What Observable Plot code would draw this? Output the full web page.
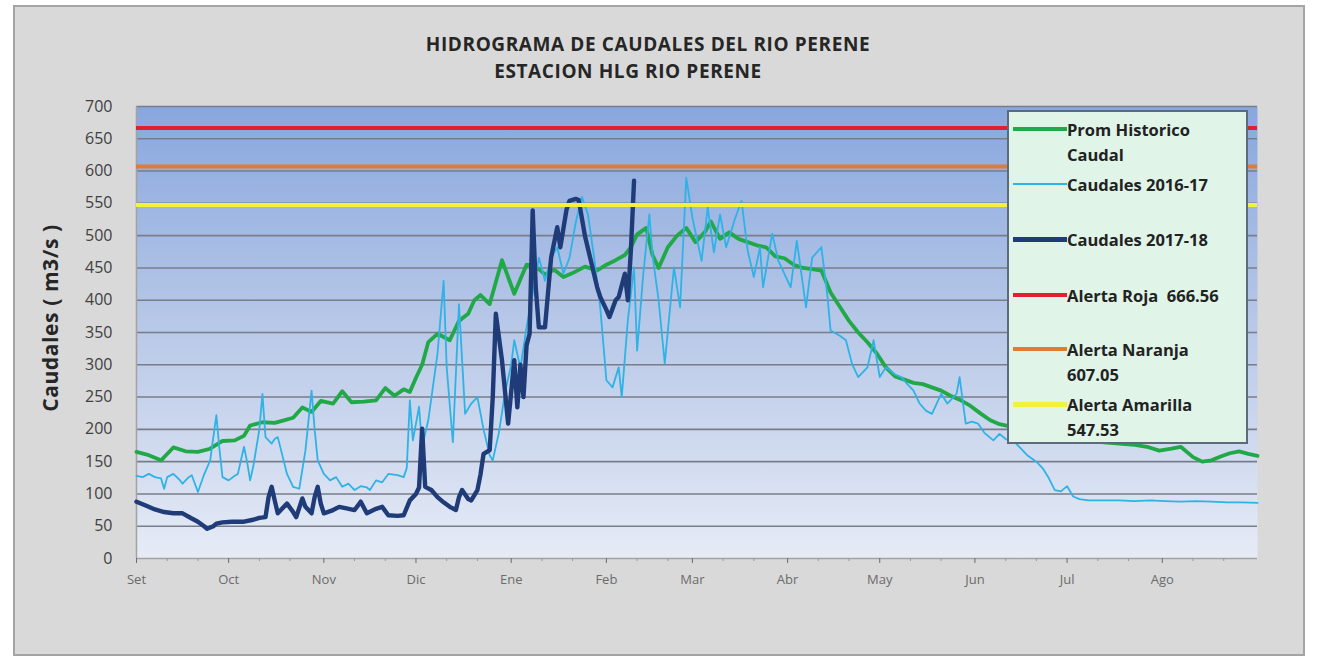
<!DOCTYPE html>
<html>
<head>
<meta charset="utf-8">
<script src="https://cdn.jsdelivr.net/npm/d3@7"></script>
<script src="https://cdn.jsdelivr.net/npm/@observablehq/plot@0.6"></script>
<style>
  body { margin:0; background:#fff; width:1319px; height:664px; position:relative; overflow:hidden; font-family:"Open Sans", sans-serif; }
  #frame { position:absolute; left:13px; top:5px; width:1292px; height:651px; background:#d9d9d9; border:2px solid #a4a4a4; box-sizing:border-box; }
  .title { position:absolute; font-weight:bold; font-size:19px; letter-spacing:0.6px; color:#262626; white-space:nowrap; transform:translateX(-50%); font-family:"Open Sans", sans-serif; }
  #chart { position:absolute; left:0; top:90px; }
  #ytitle { position:absolute; left:50px; top:318px; transform:translate(-50%,-50%) rotate(-90deg); font-weight:bold; font-size:21px; letter-spacing:0.6px; color:#262626; white-space:nowrap; }
  #legend { position:absolute; left:1007px; top:110px; width:241px; height:334px; background:#e0f4e8; border:2px solid #5b6b7d; box-sizing:border-box; }
  .sw { position:absolute; left:4px; width:54px; }
  .lt { position:absolute; left:58px; font-weight:bold; font-size:16.5px; line-height:25px; color:#222; white-space:pre; }
</style>
</head>
<body>
<div id="frame"></div>
<div class="title" style="left:648px; top:31px;">HIDROGRAMA DE CAUDALES DEL RIO PERENE</div>
<div class="title" style="left:628px; top:58px;">ESTACION HLG RIO PERENE</div>
<div id="chart"></div>
<div id="ytitle">Caudales ( m3/s )</div>
<div id="legend"></div>
<script>
// ---- data (day offset from 1 Sep, caudal m3/s) ----
const monthLabels = ["Set","Oct","Nov","Dic","Ene","Feb","Mar","Abr","May","Jun","Jul","Ago"];
const monthStartDays = [0,30,61,91,122,153,181,212,242,273,303,334];
const yTicks = [0,50,100,150,200,250,300,350,400,450,500,550,600,650,700];

const promHistorico = [[0,165],[4,160],[8,152],[12,172],[16,166],[20,165],[24,170],[28,182],[32,183],[35,190],[37,206],[41,211],[45,210],[48,214],[51,218],[54,234],[57,227],[60,244],[64,240],[67,259],[70,242],[74,243],[78,245],[81,264],[84,252],[87,262],[89,258],[91,280],[93,300],[95,335],[98,348],[102,338],[105,368],[108,379],[110,400],[112,408],[115,394],[119,462],[123,410],[127,455],[130,452],[133,440],[136,447],[139,436],[142,442],[146,452],[150,446],[153,455],[156,462],[159,470],[161,482],[163,502],[166,512],[168,470],[170,450],[173,482],[176,500],[179,512],[182,490],[185,505],[187,522],[190,495],[193,505],[196,495],[199,490],[202,485],[205,482],[208,468],[211,465],[214,455],[217,450],[220,448],[223,446],[226,412],[229,390],[232,368],[235,350],[238,335],[241,318],[244,296],[247,282],[250,277],[253,272],[256,270],[259,265],[262,260],[265,252],[268,246],[271,238],[275,224],[278,214],[281,208],[284,205],[288,198],[292,195],[296,192],[300,188],[305,185],[310,183],[315,180],[320,178],[325,176],[329,173],[333,167],[337,170],[340,173],[344,157],[347,150],[350,152],[353,158],[356,163],[359,166],[362,162],[365,159]];

const caudales1617 = [[0,128],[2,126],[4,131],[6,126],[8,124],[9,108],[10,126],[12,131],[14,122],[15,116],[17,126],[18,129],[20,103],[22,130],[24,152],[26,222],[27,170],[28,126],[30,121],[32,128],[33,131],[35,173],[36,150],[37,121],[38,142],[40,200],[41,255],[42,188],[44,178],[45,185],[46,188],[48,150],[49,131],[51,111],[53,108],[55,167],[57,260],[58,200],[59,152],[61,131],[63,121],[65,126],[67,111],[69,116],[71,106],[73,112],[75,110],[76,106],[78,121],[80,118],[82,131],[85,129],[87,126],[88,140],[89,245],[90,183],[92,235],[93,173],[95,214],[98,317],[100,430],[101,296],[103,180],[105,394],[107,224],[109,240],[111,250],[113,200],[115,160],[116,152],[118,195],[120,257],[122,300],[123,338],[125,295],[127,358],[129,410],[131,466],[133,430],[135,466],[137,482],[139,441],[141,466],[143,520],[145,560],[147,533],[149,466],[151,389],[153,276],[155,265],[157,296],[158,250],[160,370],[162,451],[163,322],[165,440],[167,533],[168,470],[170,400],[172,302],[175,451],[177,389],[179,590],[181,528],[184,461],[186,544],[188,474],[190,533],[192,482],[195,528],[197,554],[199,477],[201,436],[203,482],[204,420],[207,503],[209,461],[213,420],[215,492],[218,389],[220,466],[223,482],[225,405],[226,353],[229,345],[231,338],[233,301],[235,281],[238,296],[240,338],[242,281],[244,296],[247,285],[249,281],[251,270],[253,260],[255,240],[257,229],[259,224],[262,255],[264,240],[265,245],[267,255],[268,281],[270,209],[272,212],[274,209],[276,195],[279,183],[281,193],[283,185],[286,180],[288,170],[290,160],[293,150],[295,140],[297,125],[299,106],[301,104],[303,112],[305,96],[307,92],[310,90],[315,90],[320,90],[325,89],[330,90],[335,89],[340,88],[345,89],[350,88],[355,87],[360,87],[365,86]];

const caudales1718 = [[0,88],[3,82],[6,76],[9,72],[12,70],[15,70],[18,62],[20,57],[22,50],[23,46],[25,50],[26,54],[28,56],[31,57],[35,57],[38,60],[40,63],[42,64],[43,95],[44,111],[45,90],[46,70],[48,80],[49,85],[51,72],[52,64],[54,93],[55,80],[57,70],[58,95],[59,111],[60,85],[61,70],[64,75],[66,80],[68,78],[71,75],[73,88],[75,70],[78,77],[80,80],[82,67],[85,66],[87,67],[89,90],[91,100],[92,110],[93,201],[94,111],[96,106],[98,95],[100,87],[102,80],[104,75],[105,95],[106,106],[108,92],[109,90],[111,106],[112,130],[113,162],[115,168],[116,250],[117,379],[119,307],[121,209],[123,307],[124,234],[125,300],[126,250],[127,330],[128,348],[129,539],[130,420],[131,358],[133,358],[135,466],[137,513],[138,482],[140,540],[141,554],[143,557],[144,555],[146,500],[148,460],[150,420],[151,405],[153,385],[154,374],[156,400],[157,405],[159,441],[160,400],[161,480],[162,585]];

const alertNames = ["Alerta Roja", "Alerta Naranja", "Alerta Amarilla"];
const alertValues = [666.56, 607.05, 547.53];
const alertColors = ["#e0202e", "#e07a34", "#f2f23a"];

const seriesNames = ["Prom Historico Caudal", "Caudales 2016-17", "Caudales 2017-18"];
const seriesColors = ["#21a847", "#2fb2e6", "#1f3c78"];
const seriesWidths = [3.8, 1.8, 4.4];

const minorTickDays = d3.range(0, 366, 1).filter(d => {
  const i = d3.bisectRight(monthStartDays, d) - 1;
  const off = d - monthStartDays[i];
  return off === 10 || off === 20;
});

const alerts = alertValues.map((v, i) => ({v, color: alertColors[i]}));
const xy = {x: d => d[0], y: d => d[1]};

const plot = Plot.plot({
  width: 1319,
  height: 574,
  marginLeft: 136,
  marginRight: 62,
  marginTop: 16,
  marginBottom: 106,
  x: {domain: [0, 365]},
  y: {domain: [0, 700]},
  style: {background: "transparent", fontFamily: "Open Sans, sans-serif", overflow: "visible"},
  marks: [
    Plot.frame({fill: "url(#bgGrad)", stroke: null}),
    Plot.ruleY(yTicks.filter(v => v > 0), {stroke: "#787d89", strokeWidth: 1.6}),
    Plot.ruleX([0], {stroke: "#a3a3a3", strokeWidth: 1.5}),
    Plot.ruleY([0], {stroke: "#a3a3a3", strokeWidth: 1.5}),
    Plot.axisY({ticks: yTicks, tickSize: 0, tickPadding: 24, fontSize: 16, color: "#404040", label: null}),
    Plot.axisX({ticks: minorTickDays, tickSize: 3, text: null, color: "#9a9a9a", label: null}),
    Plot.axisX({ticks: monthStartDays, tickSize: 5, tickPadding: 11, fontSize: 13, color: "#6b6b6b", label: null,
      tickFormat: d => monthLabels[monthStartDays.indexOf(d)]}),
    Plot.line(promHistorico, {...xy, stroke: seriesColors[0], strokeWidth: seriesWidths[0], strokeLinejoin: "round"}),
    Plot.line(caudales1617, {...xy, stroke: seriesColors[1], strokeWidth: seriesWidths[1], strokeLinejoin: "round"}),
    Plot.line(caudales1718, {...xy, stroke: seriesColors[2], strokeWidth: seriesWidths[2], strokeLinejoin: "round"}),
    Plot.ruleY(alerts, {y: "v", stroke: "color", strokeWidth: 4})
  ]
});

// gradient for plot background
const ns = "http://www.w3.org/2000/svg";
const defs = document.createElementNS(ns, "defs");
const grad = document.createElementNS(ns, "linearGradient");
grad.setAttribute("id", "bgGrad");
grad.setAttribute("x1", "0"); grad.setAttribute("y1", "0");
grad.setAttribute("x2", "0"); grad.setAttribute("y2", "1");
[["0", "#88a7de"], ["0.5", "#b9c9e8"], ["1", "#e6ebf6"]].forEach(([o, c]) => {
  const s = document.createElementNS(ns, "stop");
  s.setAttribute("offset", o); s.setAttribute("stop-color", c);
  grad.appendChild(s);
});
defs.appendChild(grad);
plot.insertBefore(defs, plot.firstChild);
document.getElementById("chart").appendChild(plot);

// legend
const legendRows = [
  {lines: ["Prom Historico", "Caudal"], color: seriesColors[0], w: 4, y: 17},
  {lines: ["Caudales 2016-17"], color: seriesColors[1], w: 2, y: 72},
  {lines: ["Caudales 2017-18"], color: seriesColors[2], w: 5, y: 127},
  {lines: [alertNames[0] + "  " + alertValues[0].toFixed(2)], color: alertColors[0], w: 4, y: 183},
  {lines: [alertNames[1], alertValues[1].toFixed(2)], color: alertColors[1], w: 4, y: 237},
  {lines: [alertNames[2], alertValues[2].toFixed(2)], color: alertColors[2], w: 5, y: 292}
];
const leg = document.getElementById("legend");
legendRows.forEach(r => {
  const sw = document.createElement("div");
  sw.className = "sw";
  sw.style.top = (r.y - r.w / 2) + "px";
  sw.style.height = r.w + "px";
  sw.style.background = r.color;
  leg.appendChild(sw);
  const t = document.createElement("div");
  t.className = "lt";
  t.style.top = (r.y - 12.5) + "px";
  t.textContent = r.lines.join("\n");
  leg.appendChild(t);
});
</script>
</body>
</html>
